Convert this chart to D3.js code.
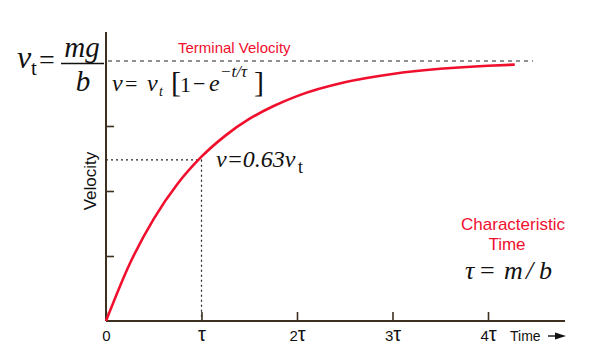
<!DOCTYPE html>
<html><head><meta charset="utf-8">
<script src="https://cdn.jsdelivr.net/npm/d3@7"></script>
<style>body{margin:0;background:#fff}svg{display:block}</style>
</head><body>
<svg id="c" width="598" height="364"></svg>
<script>
// Data (fractions of terminal velocity vs time in units of tau)
const timeValues = [0, 0.25, 0.5, 0.75, 1, 1.25, 1.5, 1.75, 2, 2.5, 3, 3.5, 4, 4.28];
const velocityValues = [0, 0.221, 0.393, 0.528, 0.632, 0.713, 0.777, 0.826, 0.865, 0.918, 0.950, 0.970, 0.982, 0.986];
const xTickValues = [0, 1, 2, 3, 4];
const xTickLabels = ["0", "τ", "2τ", "3τ", "4τ"];
const yTickValues = [0.25, 0.5, 0.75];
const terminal = 1;
const charPoint = {t: 1, v: 0.62};

const svg = d3.select("#c");
const x = d3.scaleLinear().domain([0, 4]).range([106, 488]);
const y = d3.scaleLinear().domain([0, 1]).range([321, 61]);
const axisColor = "#3d3020";
const red = "#f0102e";
const serif = "'Liberation Serif','Times New Roman',serif";
const sans = "'Liberation Sans',Arial,Helvetica,sans-serif";
const ink = "#111";

// terminal dashed line
svg.append("line").attr("x1", x(0)+2).attr("x2", 533).attr("y1", y(terminal)).attr("y2", y(terminal))
  .attr("stroke", "#222").attr("stroke-width", 1.2).attr("stroke-dasharray", "4,4");

// characteristic dotted lines
svg.append("line").attr("x1", x(0)).attr("x2", x(charPoint.t)).attr("y1", y(charPoint.v)).attr("y2", y(charPoint.v))
  .attr("stroke", "#222").attr("stroke-width", 1.2).attr("stroke-dasharray", "2,3");
svg.append("line").attr("x1", x(charPoint.t)).attr("x2", x(charPoint.t)).attr("y1", y(charPoint.v)).attr("y2", y(0))
  .attr("stroke", "#222").attr("stroke-width", 1.2).attr("stroke-dasharray", "2,3");

// axes
const xAxis = d3.axisBottom(x).tickValues(xTickValues).tickFormat("").tickSizeInner(-9).tickSizeOuter(0);
const gx = svg.append("g").attr("transform", `translate(0,${y(0)})`).call(xAxis);
gx.select(".domain").remove();
gx.selectAll(".tick line").attr("stroke", axisColor).attr("stroke-width", 1.6);
gx.selectAll(".tick text").remove();
gx.selectAll(".tick").each(function(d, i) {
  const t = d3.select(this).append("text").attr("y", 20).attr("text-anchor", "middle")
    .attr("font-family", sans).attr("fill", ink);
  const lab = xTickLabels[i];
  const num = lab.replace("τ", "");
  if (num) t.append("tspan").attr("font-size", 15).text(num);
  if (lab.includes("τ")) t.append("tspan").attr("font-size", 20).text("τ");
});
svg.append("line").attr("x1", x(0)).attr("x2", 565).attr("y1", y(0)).attr("y2", y(0)).attr("stroke", axisColor).attr("stroke-width", 2);

const yAxis = d3.axisLeft(y).tickValues(yTickValues).tickFormat("").tickSizeInner(-8).tickSizeOuter(0);
const gy = svg.append("g").attr("transform", `translate(${x(0)},0)`).call(yAxis);
gy.select(".domain").remove();
gy.selectAll(".tick line").attr("stroke", axisColor).attr("stroke-width", 1.6);
svg.append("line").attr("x1", x(0)).attr("x2", x(0)).attr("y1", 32).attr("y2", y(0)).attr("stroke", axisColor).attr("stroke-width", 2);

// curve
const line = d3.line().x((d,i)=>x(timeValues[i])).y(d=>y(d)).curve(d3.curveMonotoneX);
svg.append("path").attr("d", line(velocityValues)).attr("fill", "none").attr("stroke", red).attr("stroke-width", 2.6);

// Axis titles
svg.append("text").attr("transform", "translate(96,181) rotate(-90)").attr("text-anchor", "middle")
  .attr("font-family", sans).attr("font-size", 17).attr("fill", ink).text("Velocity");
svg.append("text").attr("x", 510).attr("y", 341).attr("font-family", sans).attr("font-size", 14).attr("fill", ink).text("Time");
svg.append("line").attr("x1", 548).attr("x2", 558).attr("y1", 336).attr("y2", 336).attr("stroke", ink).attr("stroke-width", 1.4);
svg.append("path").attr("d", "M555,332.5 L566,336 L555,339.5 Z").attr("fill", ink);

function txt(xp, yp, s, size, opts) {
  opts = opts || {};
  return svg.append("text").attr("x", xp).attr("y", yp).attr("font-family", opts.fam || serif)
    .attr("font-style", opts.italic ? "italic" : "normal").attr("font-size", size)
    .attr("fill", opts.fill || ink).attr("text-anchor", opts.anchor || "start").text(s);
}

// Left formula v_t = mg/b
txt(17, 68, "v", 32, {italic: true});
txt(31, 75, "t", 21);
txt(39, 69, "=", 28);
txt(82, 57, "mg", 29, {italic: true, anchor: "middle"});
svg.append("line").attr("x1", 61).attr("x2", 104).attr("y1", 63.5).attr("y2", 63.5).attr("stroke", ink).attr("stroke-width", 1.3);
txt(83, 91, "b", 29, {italic: true, anchor: "middle"});

// v = v_t [1 - e^{-t/tau}]
txt(112, 91, "v", 24, {italic: true});
txt(125, 91, "=", 22);
txt(147, 91, "v", 24, {italic: true});
txt(159, 96, "t", 14, {italic: true});
txt(171, 92, "[", 30);
txt(180, 92, "1", 22);
txt(193, 91, "−", 22);
txt(209, 91, "e", 24, {italic: true});
txt(220, 77, "−t/τ", 17, {italic: true});
txt(254, 92, "]", 30);

txt(178, 53, "Terminal Velocity", 15, {fam: sans, fill: red});

// v = 0.63 v_t
txt(216, 167, "v=0.63v", 24, {italic: true});
txt(298, 173, "t", 18);

// Characteristic time
txt(513, 230, "Characteristic", 17, {fam: sans, fill: red, anchor: "middle"});
txt(507, 250, "Time", 17, {fam: sans, fill: red, anchor: "middle"});
txt(465, 279, "τ", 26, {italic: true});
txt(480, 279, "=", 26);
txt(504, 279, "m", 26, {italic: true});
txt(526, 279, "/", 26, {italic: true});
txt(539, 279, "b", 26, {italic: true});
</script>
</body></html>
